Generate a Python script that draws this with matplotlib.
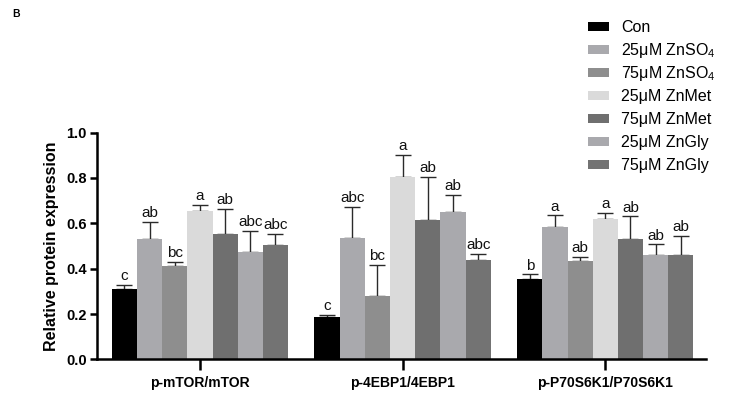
import matplotlib
matplotlib.use("Agg")
import matplotlib.pyplot as plt
import numpy as np
from matplotlib.patches import Rectangle

plt.rcParams['font.family'] = ['Liberation Sans', 'DejaVu Sans']
plt.rcParams['mathtext.fontset'] = 'custom'
plt.rcParams['mathtext.rm'] = 'Liberation Sans'
plt.rcParams['mathtext.it'] = 'Liberation Sans'

groups = ['p-mTOR/mTOR', 'p-4EBP1/4EBP1', 'p-P70S6K1/P70S6K1']
series = ['Con', '25μM ZnSO$_4$', '75μM ZnSO$_4$', '25μM ZnMet', '75μM ZnMet', '25μM ZnGly', '75μM ZnGly']
colors = ['#000000', '#a9a9ad', '#8e8e8e', '#dadada', '#6f6f6f', '#a9a9ad', '#737373']

con = [0.31, 0.188, 0.355]
znso4_25 = [0.53, 0.537, 0.585]
znso4_75 = [0.41, 0.28, 0.435]
znmet_25 = [0.655, 0.805, 0.62]
znmet_75 = [0.555, 0.615, 0.53]
zngly_25 = [0.475, 0.648, 0.46]
zngly_75 = [0.505, 0.44, 0.46]

con_err = [0.02, 0.01, 0.02]
znso4_25_err = [0.075, 0.135, 0.05]
znso4_75_err = [0.02, 0.135, 0.017]
znmet_25_err = [0.025, 0.095, 0.025]
znmet_75_err = [0.11, 0.19, 0.1]
zngly_25_err = [0.09, 0.077, 0.047]
zngly_75_err = [0.05, 0.025, 0.085]

letters = [
    ['c', 'c', 'b'],
    ['ab', 'abc', 'a'],
    ['bc', 'bc', 'ab'],
    ['a', 'a', 'a'],
    ['ab', 'ab', 'ab'],
    ['abc', 'ab', 'ab'],
    ['abc', 'abc', 'ab'],
]

values = [con, znso4_25, znso4_75, znmet_25, znmet_75, zngly_25, zngly_75]
errors = [con_err, znso4_25_err, znso4_75_err, znmet_25_err, znmet_75_err, zngly_25_err, zngly_75_err]

W, H = 741, 396
fig = plt.figure(figsize=(W / 100, H / 100), dpi=100)
ax = fig.add_axes([0.1305, 0.0922, 0.8223, 0.5732])

centers = np.arange(len(groups)) * 8.05
w = 1.0
for i, (vals, errs, col) in enumerate(zip(values, errors, colors)):
    x = centers + (i - 3) * w
    ax.bar(x, vals, width=w, color=col, edgecolor='none', zorder=2)
    ax.errorbar(x, vals, yerr=[np.zeros(len(vals)), errs], fmt='none',
                ecolor='#2a2a2a', elinewidth=1.0, capsize=6, capthick=1.0, zorder=1)
    for xi, v, e, t in zip(x, vals, errs, letters[i]):
        ax.text(xi, v + e + 0.008, t, ha='center', va='bottom', fontsize=11, color='#111111')

ax.set_xlim(centers[0] - 4.1, centers[-1] + 3.5 + 0.5)
ax.set_ylim(0, 1.0)
ax.set_yticks([0.0, 0.2, 0.4, 0.6, 0.8, 1.0])
ax.set_yticklabels(['0.0', '0.2', '0.4', '0.6', '0.8', '1.0'], fontsize=10.5, fontweight='bold')
ax.set_xticks(centers)
ax.set_xticklabels(groups, fontsize=10, fontweight='bold')
ax.set_ylabel('Relative protein expression', fontsize=11.5, fontweight='bold', labelpad=5)
for s in ['top', 'right']:
    ax.spines[s].set_visible(False)
for s in ['left', 'bottom']:
    ax.spines[s].set_linewidth(1.8)
ax.tick_params(axis='y', width=1.8, length=5, pad=2)
ax.tick_params(axis='x', width=1.8, length=8, pad=4)

# legend drawn manually for even row spacing
for k, (lab, col) in enumerate(zip(series, colors)):
    yc = 26.7 + 22.9 * k
    fig.add_artist(Rectangle((588 / W, 1 - (yc + 4.5) / H), 21 / W, 9 / H,
                             transform=fig.transFigure, facecolor=col, edgecolor='none'))
    fig.text(621 / W, 1 - (yc + 5.8) / H, lab, fontsize=11.5, va='baseline', ha='left')

fig.text(12.7 / W, 1 - 17.3 / H, 'B', fontsize=7.5, fontweight='bold', va='baseline')

fig.savefig('out.png', dpi=100)
